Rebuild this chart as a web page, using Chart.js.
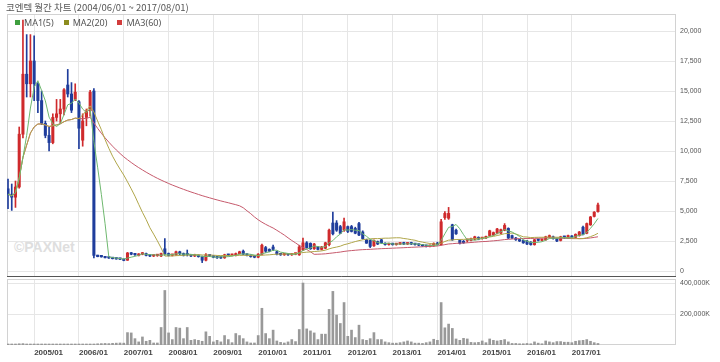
<!DOCTYPE html>
<html>
<head>
<meta charset="utf-8">
<script src="https://cdn.jsdelivr.net/npm/chart.js@4.4.1/dist/chart.umd.min.js"></script>
<style>
  body { margin: 0; background: #fff; width: 720px; height: 362px; overflow: hidden; position: relative; }
  canvas { position: absolute; left: 0; }
  #price { top: 0; }
  #volume { top: 278px; }
  #title { position: absolute; left: 6px; top: 0; font: 9.5px "Noto Sans CJK KR", "Noto Sans", sans-serif; color: #555; white-space: nowrap; }
  #legend { position: absolute; left: 15px; top: 16px; font: 9px "Noto Sans", sans-serif; color: #555; white-space: nowrap; }
  #legend span.sq { display: inline-block; width: 5px; height: 5px; margin-right: 4px; vertical-align: 1px; }
  #legend span.it { margin-right: 10px; }
  #mark { position: absolute; left: 14px; top: 239px; font: bold 14px "Liberation Sans", sans-serif; color: #dedede; }
</style>
</head>
<body>
<div id="mark">©PAXNet</div>
<canvas id="price" width="720" height="278"></canvas>
<canvas id="volume" width="720" height="84"></canvas>
<div id="title">코엔텍 월간 차트 (2004/06/01 ~ 2017/08/01)</div>
<div id="legend"></div>
<script>
// monthly candles, 2004/06 .. 2017/08 (one row per year)
const open = [
  6850, 6400, 6150, 7000, 11400, 16400, 15600,
  17500, 15600, 14200, 12300, 11300, 10700, 12800, 13100, 13500, 15500, 14750, 14300,
  14100, 10900, 12800, 13350, 15000, 1300, 1200, 1180, 1100, 1080, 1030, 1000,
  980, 900, 1500, 1400, 1300, 1400, 1450, 1300, 1250, 1280, 1250, 1850,
  1450, 1300, 1350, 1600, 1450, 1400, 1300, 1250, 1300, 1200, 900, 1300,
  1250, 1150, 1100, 1100, 1350, 1300, 1300, 1450, 1650, 1400, 1300, 1200,
  1150, 1400, 1950, 1800, 2000, 1600, 1400, 1350, 1400, 1350, 1400, 1350,
  1750, 2350, 2300, 1850, 2000, 1800, 1900, 2200, 4000, 4000, 3700, 3400,
  3700, 3700, 3550, 3950, 3250, 2600, 2550, 2100, 2450, 2600, 2300, 2200,
  2250, 2200, 2250, 2300, 2250, 2300, 2250, 2200, 2150, 2100, 2050, 2100,
  2300, 2200, 4450, 4400, 3850, 3400, 2550, 2450, 2550, 2550, 2650, 2800,
  2700, 2750, 2950, 3000, 3150, 3150, 3400, 3550, 2950, 2750, 2600, 2550,
  2500, 2400, 2200, 2600, 2550, 2600, 2800, 2850, 2700, 2550, 2850, 2750,
  2900, 2800, 2950, 3650, 3150, 3850, 4550, 4950
];
const high = [
  7650, 7250, 7500, 12000, 20900, 19700, 19700,
  19600, 15700, 15000, 12500, 12000, 13100, 14300, 14300, 15200, 16800, 15700, 15600,
  14200, 13100, 13500, 15050, 15200, 1320, 1250, 1200, 1150, 1100, 1080, 1050,
  1000, 1550, 1550, 1450, 1450, 1550, 1500, 1350, 1320, 1380, 1500, 2700,
  1500, 1400, 1650, 1650, 1500, 1750, 1350, 1400, 1350, 1250, 1450, 1350,
  1280, 1200, 1150, 1400, 1400, 1420, 1500, 1650, 1750, 1450, 1350, 1250,
  1450, 2250, 2050, 1850, 2150, 1650, 1450, 1450, 1450, 1450, 1500, 2150,
  2750, 2450, 2350, 2300, 2050, 2050, 2400, 3500, 4900, 4200, 3800, 4400,
  3750, 3800, 3650, 4050, 3350, 2650, 2600, 2600, 2500, 2650, 2350, 2300,
  2300, 2300, 2350, 2400, 2350, 2400, 2300, 2250, 2200, 2150, 2150, 2350,
  2400, 4300, 4950, 5300, 3900, 3500, 2600, 2550, 2650, 2750, 2900, 2850,
  2800, 2900, 3400, 3250, 3550, 3500, 3950, 3600, 3000, 2800, 2650, 2600,
  2550, 2450, 2650, 2650, 2650, 2900, 3000, 2900, 2750, 2900, 2900, 3000,
  2950, 3100, 3300, 3750, 4000, 4550, 4950, 5650
];
const low = [
  5200, 5050, 5300, 6900, 11100, 14500, 14500,
  14200, 13200, 12200, 11100, 10000, 10600, 12500, 12300, 13000, 14500, 13200, 14200,
  10200, 10400, 12100, 12900, 1100, 1180, 1150, 1080, 1050, 1000, 980, 950,
  850, 880, 1350, 1300, 1250, 1350, 1250, 1200, 1200, 1220, 1200, 1350,
  1250, 1250, 1300, 1350, 1250, 1250, 1200, 1200, 1150, 700, 850, 1200,
  1100, 1050, 1050, 1050, 1250, 1250, 1250, 1400, 1350, 1250, 1150, 1100,
  1100, 1350, 1550, 1600, 1700, 1350, 1300, 1300, 1300, 1300, 1350, 1300,
  1700, 1900, 1800, 1800, 1750, 1750, 1850, 2100, 3000, 3300, 3100, 3300,
  3200, 3250, 3100, 2950, 2650, 2300, 1950, 2050, 2200, 2300, 2150, 2150,
  2150, 2150, 2200, 2200, 2200, 2200, 2150, 2100, 2050, 2000, 2000, 2050,
  2150, 2150, 4300, 4300, 2550, 3050, 2250, 2300, 2400, 2500, 2600, 2600,
  2650, 2700, 2900, 2950, 3100, 3100, 3350, 2700, 2700, 2550, 2450, 2300,
  2200, 2150, 2150, 2500, 2500, 2550, 2750, 2650, 2450, 2500, 2700, 2700,
  2750, 2750, 2900, 3000, 3100, 3800, 4500, 4900
];
const close = [
  6400, 6150, 7000, 11400, 16400, 15600, 17500,
  15600, 14200, 12300, 11300, 10700, 12800, 13100, 13500, 15100, 14750, 13400, 14900,
  11900, 12500, 13350, 14900, 1300, 1200, 1180, 1100, 1080, 1030, 1000, 980,
  880, 1500, 1400, 1350, 1400, 1500, 1300, 1250, 1280, 1300, 1450, 1450,
  1300, 1350, 1600, 1450, 1300, 1350, 1250, 1350, 1200, 900, 1350, 1250,
  1150, 1100, 1080, 1350, 1300, 1350, 1450, 1600, 1400, 1300, 1200, 1150,
  1400, 2150, 1650, 1650, 1800, 1400, 1350, 1400, 1350, 1400, 1450, 2000,
  2350, 1950, 1850, 2250, 1800, 2000, 2350, 3400, 3100, 3400, 3150, 4100,
  3300, 3300, 3150, 3000, 2700, 2320, 2050, 2550, 2250, 2350, 2200, 2250,
  2200, 2250, 2300, 2250, 2300, 2250, 2200, 2150, 2100, 2050, 2100, 2300,
  2200, 4100, 4800, 4800, 2600, 3100, 2300, 2350, 2600, 2700, 2850, 2650,
  2750, 2800, 3350, 3200, 3500, 3450, 3800, 2750, 2750, 2600, 2500, 2350,
  2250, 2200, 2600, 2550, 2600, 2850, 2950, 2700, 2500, 2850, 2800, 2950,
  2800, 3050, 3250, 3050, 3950, 4500, 4900, 5500
];
// volume in thousands of shares
const volume = [
  5000, 4000, 6000, 8000, 9000, 6000, 5000,
  5000, 4000, 4000, 3000, 3000, 4000, 4000, 3000, 4000, 5000, 4000, 3000,
  4000, 3000, 3000, 4000, 6000, 8000, 9000, 10000, 9000, 11000, 12000, 13000,
  12000, 80000, 78000, 41000, 20000, 52000, 24000, 30000, 13000, 13000, 113000, 352000,
  78000, 35000, 113000, 109000, 41000, 113000, 30000, 35000, 30000, 24000, 85000, 56000,
  20000, 30000, 20000, 61000, 35000, 15000, 74000, 61000, 41000, 20000, 13000, 13000,
  61000, 237000, 74000, 41000, 96000, 26000, 17000, 13000, 20000, 35000, 22000, 100000,
  400000, 104000, 91000, 78000, 35000, 70000, 70000, 230000, 346000, 193000, 139000, 274000,
  56000, 96000, 48000, 128000, 35000, 30000, 41000, 80000, 35000, 35000, 20000, 15000,
  12000, 12000, 15000, 20000, 26000, 20000, 12000, 12000, 10000, 15000, 20000, 37000,
  30000, 274000, 111000, 135000, 107000, 39000, 30000, 43000, 39000, 17000, 15000, 17000,
  26000, 15000, 39000, 30000, 26000, 30000, 35000, 20000, 10000, 10000, 8000, 8000,
  10000, 8000, 20000, 12000, 8000, 26000, 20000, 15000, 22000, 22000, 18000, 18000,
  15000, 24000, 28000, 30000, 35000, 24000, 15000, 10000
];

const tickLabels = ['2005/01', '2006/01', '2007/01', '2008/01', '2009/01', '2010/01', '2011/01',
  '2012/01', '2013/01', '2014/01', '2015/01', '2016/01', '2017/01'];
const priceTicks = [0, 2500, 5000, 7500, 10000, 12500, 15000, 17500, 20000];
const volumeTicks = [200000, 400000];
const maSeries = [
  { label: 'MA1(5)', n: 5, line: '#6fb86f', box: '#3f9f3f' },
  { label: 'MA2(20)', n: 20, line: '#b0a64a', box: '#8c8c1e' },
  { label: 'MA3(60)', n: 60, line: '#c65a6c', box: '#d23c3c' }
];

const months = close.map((_, i) => {
  const m = 5 + i; // 2004/06 is month index 5 of 2004
  return (2004 + Math.floor(m / 12)) + '/' + String(m % 12 + 1).padStart(2, '0');
});
const tickIdx = tickLabels.map(l => months.indexOf(l));

const UP = '#cf2a2c', DOWN = '#1f3d9c';
const candleColor = ctx => close[ctx.dataIndex] >= open[ctx.dataIndex] ? UP : DOWN;

function movingAvg(n) {
  return close.map((_, i) => {
    const w = close.slice(Math.max(0, i - n + 1), i + 1);
    return { x: i, y: w.reduce((a, b) => a + b, 0) / w.length };
  });
}

const framePlugin = {
  id: 'frame',
  beforeDatasetsDraw(chart, args, opts) {
    const a = chart.chartArea, c = chart.ctx;
    c.save();
    c.strokeStyle = '#d2d2d2';
    c.lineWidth = 1;
    c.strokeRect(Math.round(a.left) + 0.5, Math.round(a.top) + 0.5, Math.round(a.width) - 1, Math.round(a.height) - 1);
    if (opts.bottomLine) {
      c.strokeStyle = '#555';
      c.beginPath();
      c.moveTo(a.left, Math.round(a.bottom) - 0.5);
      c.lineTo(a.right, Math.round(a.bottom) - 0.5);
      c.stroke();
    }
    c.restore();
  }
};

const axisFont = { family: 'Liberation Sans', size: 7 };
function xAxis(showLabels) {
  return {
    type: 'linear', min: -0.27, max: 178.9, offset: false,
    afterBuildTicks: s => { s.ticks = tickIdx.map(v => ({ value: v })); },
    afterFit: s => { s.height = showLabels ? 17 : 0; s.paddingLeft = 0; s.paddingRight = 0; },
    grid: { color: '#e6e6e6', drawTicks: false, offset: false },
    border: { display: false },
    ticks: {
      display: showLabels, autoSkip: false, maxRotation: 0, align: 'start', padding: 3,
      color: '#444', font: { family: 'Liberation Sans', size: 8, weight: 'bold' },
      callback: (v, i) => tickLabels[i]
    }
  };
}
function yAxis(min, max, ticks, fmt) {
  return {
    position: 'right', min, max,
    afterFit: s => { s.width = 44; s.paddingTop = 0; s.paddingBottom = 0; },
    afterBuildTicks: s => { s.ticks = ticks.map(v => ({ value: v })); },
    grid: { color: '#e6e6e6', drawTicks: false },
    border: { display: false },
    ticks: { padding: 4, color: '#555', font: axisFont, callback: fmt }
  };
}
const common = {
  responsive: false, animation: false, devicePixelRatio: 1, events: [],
  plugins: { legend: { display: false }, tooltip: { enabled: false } }
};

new Chart(document.getElementById('price'), {
  type: 'bar',
  plugins: [framePlugin],
  data: {
    datasets: [
      ...maSeries.map(m => ({
        type: 'line', label: m.label, data: movingAvg(m.n), order: 0,
        borderColor: m.line, borderWidth: 1, pointRadius: 0, tension: 0
      })),
      {
        label: 'body', order: 1, grouped: false, barThickness: 2.4, minBarLength: 1.5,
        data: close.map((c, i) => ({ x: i, y: [open[i], c] })),
        backgroundColor: candleColor
      },
      {
        label: 'wick', order: 2, grouped: false, barThickness: 1,
        data: close.map((c, i) => ({ x: i, y: [low[i], high[i]] })),
        backgroundColor: candleColor
      }
    ]
  },
  options: {
    ...common,
    layout: { padding: { left: 7, top: 14, right: 0, bottom: 1 } },
    plugins: { ...common.plugins, frame: { bottomLine: true } },
    scales: {
      x: xAxis(false),
      y: yAxis(-500, 21417, priceTicks, v => v.toLocaleString('en-US'))
    }
  }
});

new Chart(document.getElementById('volume'), {
  type: 'bar',
  plugins: [framePlugin],
  data: {
    datasets: [{
      label: 'volume', grouped: false, barThickness: 2, minBarLength: 1,
      data: volume.map((v, i) => ({ x: i, y: v })),
      backgroundColor: '#999999'
    }]
  },
  options: {
    ...common,
    layout: { padding: { left: 7, top: 1, right: 0, bottom: 0 } },
    plugins: { ...common.plugins, frame: { bottomLine: false } },
    scales: {
      x: xAxis(true),
      y: yAxis(0, 426000, volumeTicks, v => v.toLocaleString('en-US') + 'K')
    }
  }
});

document.getElementById('legend').innerHTML = maSeries.map(m =>
  '<span class="it"><span class="sq" style="background:' + m.box + '"></span>' + m.label + '</span>').join('');
</script>
</body>
</html>
